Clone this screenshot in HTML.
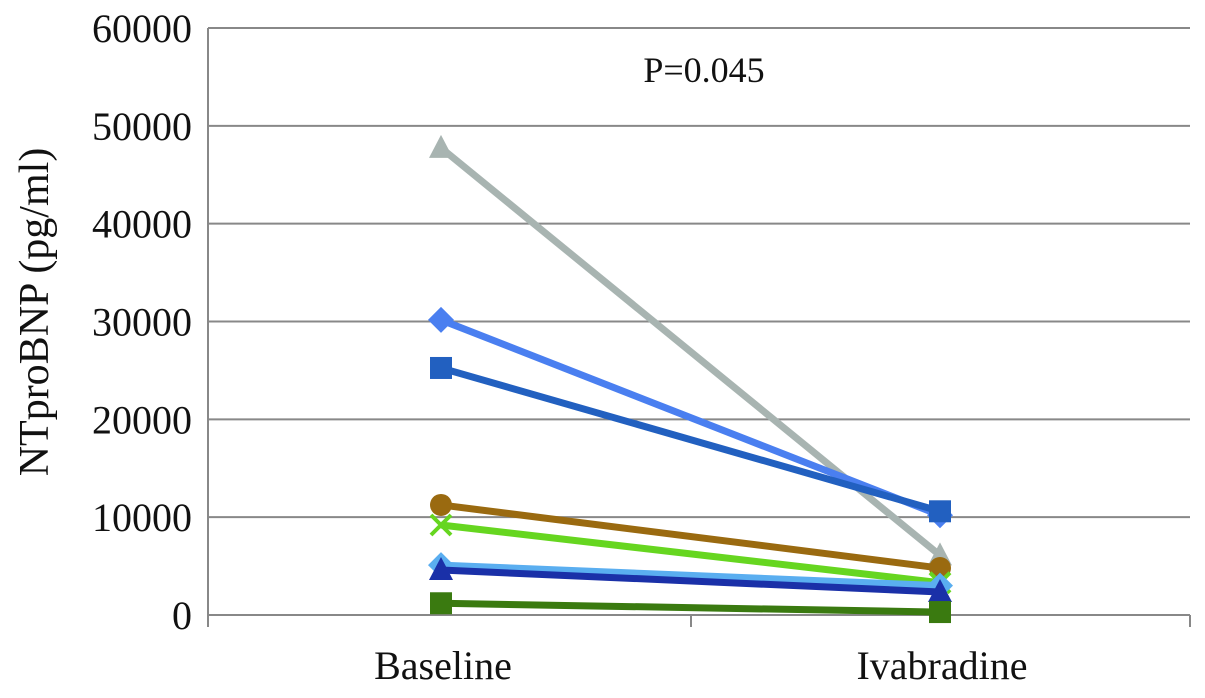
<!DOCTYPE html>
<html><head><meta charset="utf-8"><style>
body{margin:0;background:#fff;}
svg text{font-family:"Liberation Serif",serif;fill:#111;}
</style></head><body>
<svg id="c" width="1205" height="693"></svg>
<script>
const categories=["Baseline","Ivabradine"];
const yTicks=[0,10000,20000,30000,40000,50000,60000];
const sGray=[47750,6100];
const sBlueDiamond=[30160,10200];
const sDarkBlueSquare=[25250,10600];
const sBrown=[11250,4800];
const sGreenX=[9200,3300];
const sLightBlue=[5100,3000];
const sNavyTri=[4600,2350];
const sDarkGreen=[1200,300];
const series=[
 {n:"patient-gray",v:sGray,c:"#a8b4b1",m:"tri"},
 {n:"patient-blue",v:sBlueDiamond,c:"#4a7ff0",m:"diamond"},
 {n:"patient-darkblue",v:sDarkBlueSquare,c:"#2260c0",m:"square"},
 {n:"patient-brown",v:sBrown,c:"#9a6a10",m:"circle"},
 {n:"patient-green",v:sGreenX,c:"#66d620",m:"x"},
 {n:"patient-lightblue",v:sLightBlue,c:"#5aaef0",m:"diamond"},
 {n:"patient-navy",v:sNavyTri,c:"#1a30a8",m:"tri"},
 {n:"patient-darkgreen",v:sDarkGreen,c:"#3a7a10",m:"square"}
];
const L=208,R=1190,T=28,B=615;
const y=v=>B-(v/60000)*(B-T);
const x=i=>441+i*499;
const svg=document.getElementById('c');const NS="http://www.w3.org/2000/svg";
function mk(t,a,p){const e=document.createElementNS(NS,t);for(const k in a)e.setAttribute(k,a[k]);(p||svg).appendChild(e);return e;}
yTicks.forEach(t=>{
 const g=mk('line',{x1:L,x2:R,y1:y(t),y2:y(t),stroke:'#888','stroke-width':2});
 
 
 const tx=mk('text',{x:192,y:y(t)+14,'text-anchor':'end','font-size':40});tx.textContent=t;
 
 
});
mk('line',{x1:L,x2:L,y1:T,y2:B,stroke:'#888','stroke-width':2});
[L,691,R].forEach(px=>mk('line',{x1:px,x2:px,y1:B,y2:B+12,stroke:'#888','stroke-width':2}));
categories.forEach((c,i)=>{const t=mk('text',{x:x(i)+2,y:679,'text-anchor':'middle','font-size':40});t.textContent=c;
 
 });
const yt=mk('text',{transform:'translate(48,312) rotate(-90)','text-anchor':'middle','font-size':42});yt.textContent="NTproBNP  (pg/ml)";


const pv=mk('text',{x:704,y:82,'text-anchor':'middle','font-size':36});pv.textContent="P=0.045";


function marker(g,m,cx,cy,c){
 if(m==='circle')mk('circle',{cx,cy,r:11,fill:c},g);
 else if(m==='square')mk('rect',{x:cx-11,y:cy-11,width:22,height:22,fill:c},g);
 else if(m==='diamond')mk('polygon',{points:`${cx},${cy-13} ${cx+13},${cy} ${cx},${cy+13} ${cx-13},${cy}`,fill:c},g);
 else if(m==='tri')mk('polygon',{points:`${cx},${cy-13} ${cx+12},${cy+10} ${cx-12},${cy+10}`,fill:c},g);
 else{mk('path',{d:`M${cx-10},${cy-10}L${cx+10},${cy+10}M${cx+10},${cy-10}L${cx-10},${cy+10}`,stroke:c,'stroke-width':4},g);}
}
series.forEach(s=>{
 const g=mk('g',{});
 
 
 mk('line',{x1:x(0),y1:y(s.v[0]),x2:x(1),y2:y(s.v[1]),stroke:s.c,'stroke-width':7},g);
 s.v.forEach((v,i)=>marker(g,s.m,x(i),y(v),s.c));
});
</script>
</body></html>
